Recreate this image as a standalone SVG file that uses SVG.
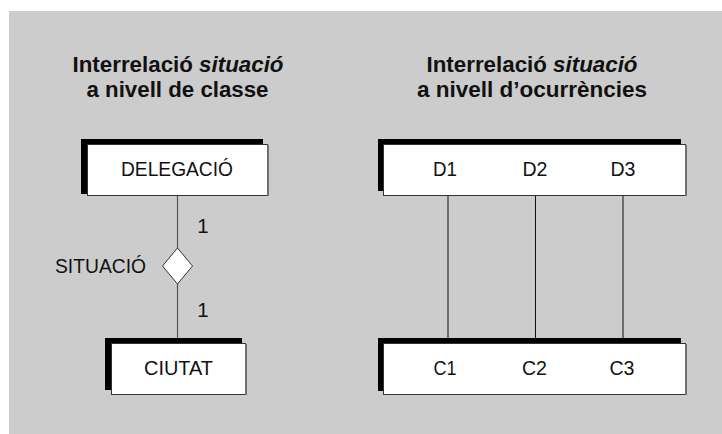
<svg xmlns="http://www.w3.org/2000/svg" width="722" height="434" viewBox="0 0 722 434">
<style>
.bg{fill:#cccccc}
.sh{fill:#000000}
.box{fill:#ffffff;stroke:#333333;stroke-width:1}
.edge{stroke:#707070;stroke-width:2}
.lbl{font-family:"Liberation Sans",Arial,sans-serif;font-size:20.5px;fill:#111111;text-anchor:middle}
.ttl{font-family:"Liberation Sans",Arial,sans-serif;font-size:22px;font-weight:bold;fill:#111111;text-anchor:middle}
.conn{stroke:#555555;stroke-width:1.2;fill:none}
.occ{stroke:#111111;stroke-width:1;fill:none}
</style>
<rect class="bg" x="9" y="11" width="713" height="423"/>
<g id="title-left">
<text class="ttl" x="178" y="72" textLength="211" lengthAdjust="spacingAndGlyphs">Interrelació <tspan font-style="italic">situació</tspan></text>
<text class="ttl" x="177.5" y="97" textLength="182" lengthAdjust="spacingAndGlyphs">a nivell de classe</text>
</g>
<g id="title-right">
<text class="ttl" x="532" y="72" textLength="211" lengthAdjust="spacingAndGlyphs">Interrelació <tspan font-style="italic">situació</tspan></text>
<text class="ttl" x="532" y="97" textLength="230" lengthAdjust="spacingAndGlyphs">a nivell d’ocurrències</text>
</g>
<g id="connectors">
<line class="conn" x1="177.5" y1="196" x2="177.5" y2="248"/>
<line class="conn" x1="177.5" y1="284" x2="177.5" y2="343"/>
<line class="occ" x1="448" y1="185" x2="448" y2="350"/>
<line class="occ" x1="535.5" y1="185" x2="535.5" y2="350"/>
<line class="occ" x1="623" y1="185" x2="623" y2="350"/>
<text class="lbl" x="203" y="233">1</text>
<text class="lbl" x="203" y="317">1</text>
</g>
<g id="situacio">
<polygon points="177.5,248 192.5,266 177.5,284 162.5,266" fill="#ffffff" stroke="#333333" stroke-width="1"/>
<text class="lbl" x="146" y="273" style="text-anchor:end" textLength="91" lengthAdjust="spacingAndGlyphs">SITUACIÓ</text>
</g>
<g id="delegacio">
<rect class="sh" x="81" y="139" width="182" height="55"/>
<rect class="box" x="87.5" y="144.5" width="180" height="51"/>
<line class="edge" x1="268" y1="145" x2="268" y2="196"/>
<text class="lbl" x="177" y="176" textLength="112" lengthAdjust="spacingAndGlyphs">DELEGACIÓ</text>
</g>
<g id="ciutat">
<rect class="sh" x="105" y="338" width="137" height="52"/>
<rect class="box" x="111.5" y="343.5" width="134" height="51"/>
<line class="edge" x1="246" y1="344" x2="246" y2="395"/>
<text class="lbl" x="178.5" y="375" textLength="69" lengthAdjust="spacingAndGlyphs">CIUTAT</text>
</g>
<g id="delegacions">
<rect class="sh" x="378" y="139" width="303" height="52"/>
<rect class="box" x="383.5" y="144.5" width="302" height="51"/>
<line class="edge" x1="686" y1="145" x2="686" y2="196"/>
<text class="lbl" x="445" y="176" textLength="24" lengthAdjust="spacingAndGlyphs">D1</text>
<text class="lbl" x="535" y="176" textLength="25" lengthAdjust="spacingAndGlyphs">D2</text>
<text class="lbl" x="623" y="176" textLength="25" lengthAdjust="spacingAndGlyphs">D3</text>
</g>
<g id="ciutats">
<rect class="sh" x="378" y="338" width="303" height="53"/>
<rect class="box" x="383.5" y="343.5" width="302" height="51"/>
<line class="edge" x1="686" y1="344" x2="686" y2="395"/>
<text class="lbl" x="445" y="375" textLength="23" lengthAdjust="spacingAndGlyphs">C1</text>
<text class="lbl" x="534.5" y="375" textLength="25" lengthAdjust="spacingAndGlyphs">C2</text>
<text class="lbl" x="622" y="375" textLength="25" lengthAdjust="spacingAndGlyphs">C3</text>
</g>
</svg>
